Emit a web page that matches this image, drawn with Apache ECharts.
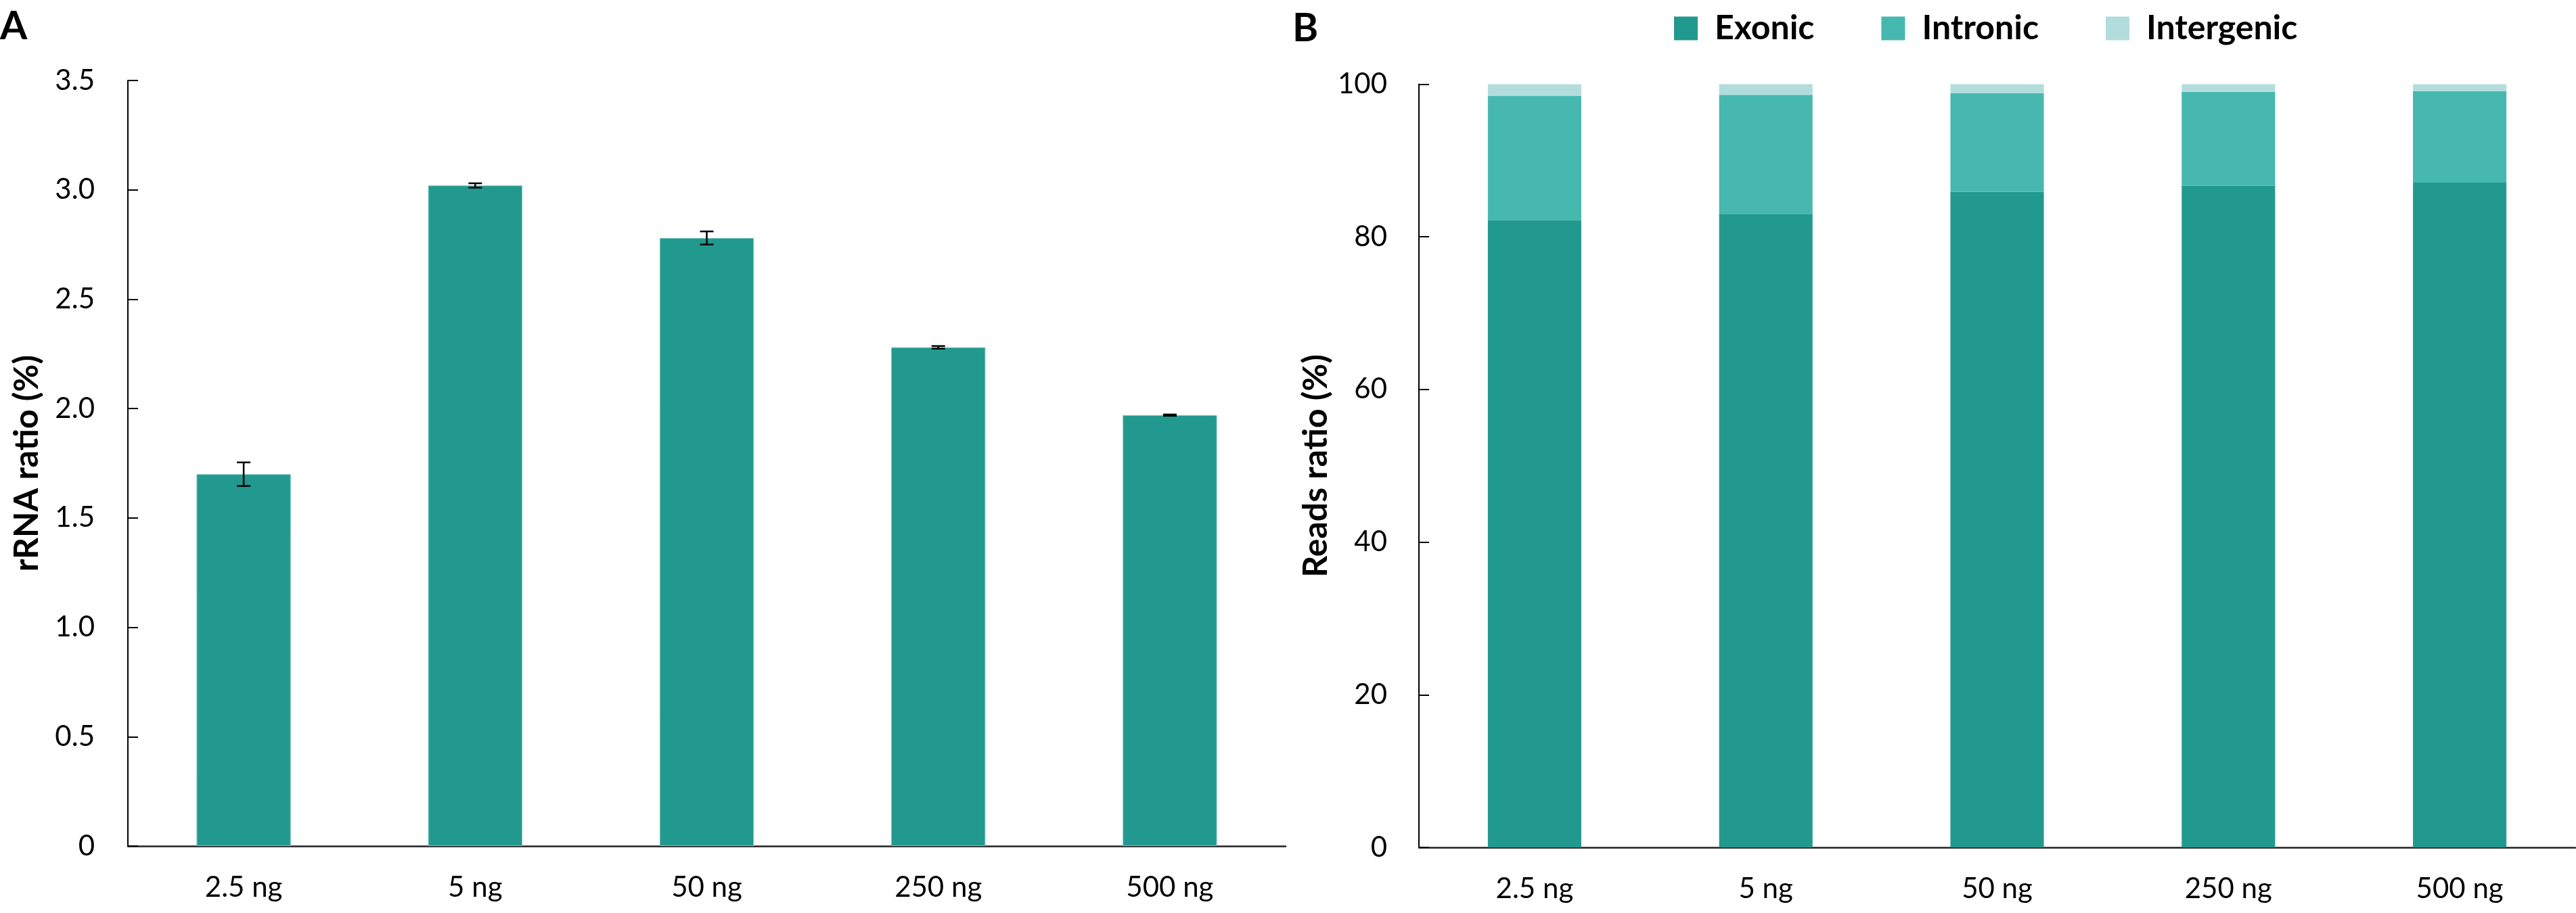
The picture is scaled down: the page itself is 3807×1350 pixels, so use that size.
<!DOCTYPE html>
<html>
<head>
<meta charset="utf-8">
<style>
  html, body { margin: 0; padding: 0; background: #fff; }
  #chart { width: 3807px; height: 1350px; }
</style>
<script src="https://cdn.jsdelivr.net/npm/echarts@6/dist/echarts.min.js"></script>
</head>
<body>
<div id="chart"></div>
<script>
// ---- data ----
const categories = ['2.5 ng', '5 ng', '50 ng', '250 ng', '500 ng'];
const rrnaMean = [1.70, 3.02, 2.78, 2.28, 1.97];
const rrnaErr  = [0.054, 0.010, 0.030, 0.006, 0.003];
const exonic     = [82.2, 83.0, 85.9, 86.7, 87.1];
const intronic   = [16.3, 15.6, 12.9, 12.3, 12.0];
const intergenic = [1.5, 1.4, 1.2, 1.0, 0.9];
const legendNames = ['Exonic', 'Intronic', 'Intergenic'];

const FONT = 'Lato';
const cExon = '#22998E', cIntr = '#47B8B0', cInter = '#B3DDDC';

const chart = echarts.init(document.getElementById('chart'));

const axisLabelStyle = { fontFamily: FONT, fontSize: 42, color: '#000' };
const nameStyle = { fontFamily: FONT, fontSize: 50, fontWeight: 'bold', color: '#000' };

const option = {
  animation: false,
  backgroundColor: '#fff',
  textStyle: { fontFamily: FONT },
  graphic: [
    { type: 'text', left: 0, top: 10, style: { text: 'A', font: 'bold 58px Lato', fill: '#000' } },
    { type: 'text', left: 1910, top: 13, style: { text: 'B', font: 'bold 58px Lato', fill: '#000' } }
  ],
  legend: {
    data: legendNames,
    left: 2469, top: 12,
    itemWidth: 35, itemHeight: 35, itemGap: 99,
    icon: 'rect',
    textStyle: { fontFamily: FONT, fontSize: 50, fontWeight: 'bold', color: '#000', padding: [0, 0, 0, 20] }
  },
  grid: [
    { left: 189, top: 119, width: 1711, height: 1132 },
    { left: 2097, top: 124.5, width: 1709, height: 1128.5 }
  ],
  xAxis: [
    { type: 'category', gridIndex: 0, data: categories,
      axisLine: { lineStyle: { color: '#222', width: 2.5 } },
      axisTick: { show: false },
      axisLabel: Object.assign({ margin: 40 }, axisLabelStyle) },
    { type: 'category', gridIndex: 1, data: categories,
      axisLine: { lineStyle: { color: '#222', width: 2.5 } },
      axisTick: { show: false },
      axisLabel: Object.assign({ margin: 40 }, axisLabelStyle) }
  ],
  yAxis: [
    { type: 'value', gridIndex: 0, min: 0, max: 3.5, interval: 0.5,
      name: 'rRNA ratio (%)', nameLocation: 'middle', nameGap: 124, nameTextStyle: nameStyle,
      axisLine: { show: true, lineStyle: { color: '#000', width: 2 } },
      axisTick: { show: true, inside: true, length: 15, lineStyle: { color: '#000', width: 2 } },
      splitLine: { show: false },
      axisLabel: Object.assign({ margin: 49, formatter: v => v === 0 ? '0' : v.toFixed(1) }, axisLabelStyle) },
    { type: 'value', gridIndex: 1, min: 0, max: 100, interval: 20,
      name: 'Reads ratio (%)', nameLocation: 'middle', nameGap: 127, nameTextStyle: nameStyle,
      axisLine: { show: true, lineStyle: { color: '#000', width: 2 } },
      axisTick: { show: true, inside: true, length: 15, lineStyle: { color: '#000', width: 2 } },
      splitLine: { show: false },
      axisLabel: Object.assign({ margin: 47 }, axisLabelStyle) }
  ],
  series: [
    { name: 'rRNA', type: 'bar', xAxisIndex: 0, yAxisIndex: 0, data: rrnaMean,
      barWidth: '40.7%',
      itemStyle: { color: cExon, borderColor: '#7cc7c0', borderWidth: 1 } },
    { name: 'err', type: 'custom', xAxisIndex: 0, yAxisIndex: 0,
      data: rrnaMean.map((m, i) => [i, m - rrnaErr[i], m + rrnaErr[i]]),
      z: 10,
      renderItem: function (params, api) {
        const x = api.value(0);
        const lo = api.coord([x, api.value(1)]);
        const hi = api.coord([x, api.value(2)]);
        const hw = 10;
        const st = { stroke: '#000', lineWidth: 2.5 };
        return { type: 'group', children: [
          { type: 'line', shape: { x1: lo[0], y1: lo[1], x2: hi[0], y2: hi[1] }, style: st },
          { type: 'line', shape: { x1: lo[0] - hw, y1: lo[1], x2: lo[0] + hw, y2: lo[1] }, style: st },
          { type: 'line', shape: { x1: hi[0] - hw, y1: hi[1], x2: hi[0] + hw, y2: hi[1] }, style: st }
        ]};
      } },
    { name: 'Exonic', type: 'bar', stack: 'b', xAxisIndex: 1, yAxisIndex: 1, data: exonic,
      barWidth: '40.4%', itemStyle: { color: cExon } },
    { name: 'Intronic', type: 'bar', stack: 'b', xAxisIndex: 1, yAxisIndex: 1, data: intronic,
      barWidth: '40.4%', itemStyle: { color: cIntr } },
    { name: 'Intergenic', type: 'bar', stack: 'b', xAxisIndex: 1, yAxisIndex: 1, data: intergenic,
      barWidth: '40.4%', itemStyle: { color: cInter } }
  ]
};
chart.setOption(option);
</script>
</body>
</html>
